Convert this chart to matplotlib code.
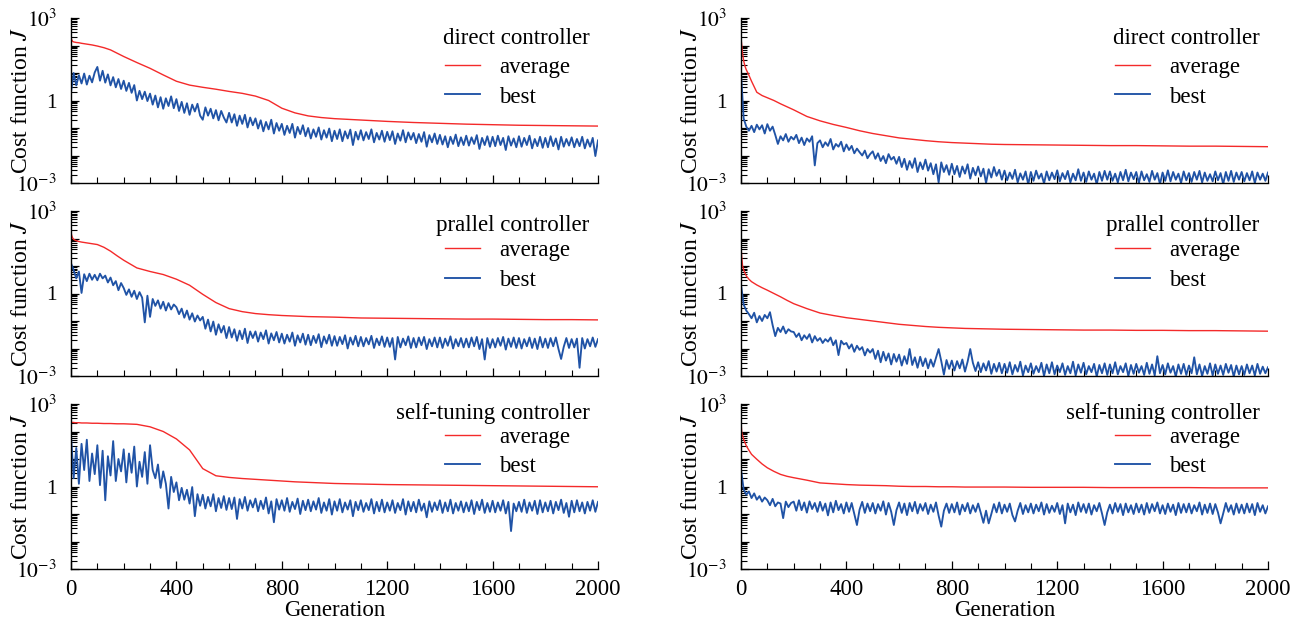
import numpy as np
import matplotlib
matplotlib.use("Agg")
import matplotlib.pyplot as plt
from matplotlib.ticker import FixedLocator, FuncFormatter, MultipleLocator, NullFormatter

plt.rcParams['font.family'] = ['Liberation Serif', 'DejaVu Serif']
plt.rcParams['mathtext.fontset'] = 'stix'

gen_avg = [0, 3, 6, 10, 15, 20, 30, 40, 60, 80, 100, 125, 150, 175, 200,
           250, 300, 350, 400, 450, 500, 550, 600, 650, 700, 750, 800, 850, 900, 950, 1000,
           1100, 1200, 1300, 1400, 1500, 1600, 1700, 1800, 1900, 2000]

# all values are log10(J); best curves are read every 10 generations
# --- direct controller ---
direct_avg_L = [2.28, 2.20, 2.15, 2.13, 2.12, 2.11, 2.10, 2.08, 2.05, 2.02, 1.98, 1.92, 1.84, 1.72, 1.60,
                1.38, 1.17, 0.93, 0.70, 0.56, 0.48, 0.41, 0.33, 0.26, 0.16, 0.00, -0.28, -0.45, -0.56, -0.62, -0.66,
                -0.71, -0.76, -0.80, -0.83, -0.86, -0.88, -0.90, -0.91, -0.92, -0.93]
direct_best_L = [
    0.30, 1.00, 0.55, 0.92, 0.62, 0.98, 0.58, 0.90, 0.66, 1.02,
    1.22, 0.72, 1.08, 0.65, 0.95, 0.55, 0.85, 0.48, 0.78, 0.42,
    0.72, 0.35, 0.64, 0.28, 0.56, 0.00, 0.35, 0.05, 0.32, -0.02,
    0.25, -0.15, 0.18, -0.25, 0.12, -0.30, 0.08, -0.20, 0.15, -0.28,
    0.05, -0.38, -0.05, -0.45, -0.10, -0.52, -0.15, -0.40, -0.12, -0.55,
    -0.70, -0.25, -0.55, -0.30, -0.65, -0.35, -0.72, -0.38, -0.62, -0.80,
    -0.45, -0.80, -0.50, -0.92, -0.55, -0.85, -0.52, -0.98, -0.62, -0.90,
    -0.65, -1.02, -0.72, -1.12, -0.78, -1.05, -0.70, -1.20, -0.82, -1.10,
    -0.85, -1.25, -0.92, -1.18, -0.85, -1.35, -0.96, -1.22, -0.90, -1.30,
    -1.00, -1.38, -1.05, -1.32, -0.98, -1.42, -1.08, -1.35, -1.02, -1.48,
    -1.10, -1.40, -1.05, -1.48, -1.12, -1.38, -1.06, -1.62, -1.14, -1.42,
    -1.08, -1.45, -1.15, -1.40, -1.05, -1.52, -1.18, -1.42, -1.10, -1.50,
    -1.14, -1.44, -1.12, -1.58, -1.20, -1.46, -1.08, -1.52, -1.16, -1.42,
    -1.18, -1.55, -1.22, -1.50, -1.15, -1.68, -1.26, -1.52, -1.20, -1.58,
    -1.25, -1.60, -1.30, -1.70, -1.32, -1.58, -1.24, -1.66, -1.34, -1.62,
    -1.28, -1.64, -1.34, -1.58, -1.26, -1.76, -1.36, -1.62, -1.30, -1.68,
    -1.32, -1.66, -1.28, -1.62, -1.36, -1.80, -1.30, -1.64, -1.38, -1.70,
    -1.30, -1.68, -1.36, -1.62, -1.28, -1.74, -1.40, -1.66, -1.32, -1.72,
    -1.36, -1.70, -1.30, -1.66, -1.38, -1.78, -1.32, -1.68, -1.40, -1.64,
    -1.34, -1.70, -1.40, -1.66, -1.32, -1.74, -1.42, -1.68, -1.36, -2.02,
    -1.45]
direct_avg_R = [2.26, 2.00, 1.70, 1.45, 1.25, 1.12, 0.92, 0.70, 0.30, 0.18, 0.10, 0.00, -0.12, -0.23, -0.34,
                -0.58, -0.74, -0.87, -0.98, -1.10, -1.20, -1.28, -1.36, -1.41, -1.46, -1.50, -1.53, -1.55, -1.57, -1.59, -1.60,
                -1.61, -1.62, -1.63, -1.64, -1.64, -1.65, -1.66, -1.66, -1.67, -1.68]
direct_best_R = [
    1.00, -0.65, -0.95, -1.10, -0.92, -1.15, -0.88, -1.05, -0.90, -1.20,
    -0.86, -1.10, -0.95, -1.25, -1.58, -1.30, -1.45, -1.22, -1.50, -1.32,
    -1.42, -1.25, -1.55, -1.35, -1.62, -1.38, -1.50, -1.30, -2.36, -1.55,
    -1.45, -1.70, -1.52, -1.65, -1.40, -1.78, -1.58, -1.68, -1.50, -1.85,
    -1.60, -1.80, -1.65, -1.92, -1.75, -1.88, -2.00, -1.82, -2.10, -1.95,
    -1.85, -2.12, -1.92, -2.20, -2.02, -2.28, -1.95, -2.15, -2.05, -2.30,
    -2.05, -2.42, -2.12, -2.52, -2.20, -2.45, -2.10, -2.60, -2.25, -2.50,
    -2.15, -2.55, -2.28, -2.68, -2.32, -2.98, -2.25, -2.60, -2.35, -2.70,
    -2.30, -2.68, -2.38, -2.78, -2.40, -2.66, -2.32, -2.84, -2.45, -2.72,
    -2.40, -2.76, -2.48, -3.00, -2.50, -2.80, -2.42, -2.74, -2.52, -2.88,
    -2.55, -2.90, -2.62, -2.85, -2.52, -2.98, -2.65, -2.88, -2.58, -3.05,
    -2.60, -2.92, -2.55, -2.84, -2.66, -3.02, -2.58, -2.90, -2.62, -2.86,
    -2.54, -2.94, -2.64, -2.86, -2.56, -2.98, -2.66, -2.90, -2.50, -2.92,
    -2.62, -2.96, -2.58, -2.88, -2.66, -3.05, -2.60, -2.92, -2.56, -2.88,
    -2.58, -2.92, -2.66, -2.98, -2.60, -2.90, -2.52, -2.94, -2.62, -2.86,
    -2.60, -3.00, -2.58, -2.90, -2.68, -2.96, -2.56, -2.88, -2.64, -3.04,
    -2.62, -2.92, -2.54, -2.94, -2.60, -2.88, -2.66, -3.00, -2.58, -2.90,
    -2.64, -2.96, -2.60, -2.88, -2.56, -2.98, -2.62, -2.92, -2.68, -2.94,
    -2.58, -2.90, -2.64, -3.04, -2.60, -2.92, -2.56, -2.96, -2.62, -2.88,
    -2.60, -2.94, -2.64, -2.90, -2.58, -3.00, -2.62, -2.88, -2.66, -2.92,
    -2.62]

# --- parallel controller ---
parallel_avg_L = [2.21, 2.10, 2.02, 1.97, 1.94, 1.92, 1.89, 1.87, 1.84, 1.81, 1.78, 1.68, 1.54, 1.37, 1.21,
                  0.93, 0.80, 0.69, 0.52, 0.30, -0.03, -0.33, -0.55, -0.66, -0.73, -0.77, -0.80, -0.82, -0.84, -0.85, -0.86,
                  -0.89, -0.90, -0.91, -0.92, -0.93, -0.93, -0.94, -0.95, -0.95, -0.96]
parallel_best_L = [
    1.10, 0.85, 0.55, 0.80, 0.02, 0.70, 0.45, 0.72, 0.50, 0.68,
    0.48, 0.72, 0.55, 0.65, 0.40, 0.58, 0.30, 0.45, 0.12, 0.38,
    0.20, -0.05, 0.15, -0.12, 0.10, -0.20, 0.05, -0.15, -1.05, -0.08,
    -0.85, -0.20, -0.45, -0.25, -0.55, -0.30, -0.62, -0.35, -0.58, -0.40,
    -0.50, -0.75, -0.55, -0.88, -0.62, -0.95, -0.72, -1.02, -0.80, -0.98,
    -0.85, -1.28, -0.95, -1.38, -1.02, -1.50, -1.12, -1.42, -1.18, -1.62,
    -1.22, -1.60, -1.30, -1.72, -1.35, -1.66, -1.28, -1.80, -1.38, -1.62,
    -1.38, -1.75, -1.42, -1.66, -1.34, -1.82, -1.45, -1.70, -1.40, -1.78,
    -1.46, -1.82, -1.50, -1.75, -1.42, -1.90, -1.52, -1.78, -1.46, -1.86,
    -1.50, -1.88, -1.54, -1.80, -1.48, -1.95, -1.56, -1.82, -1.50, -1.90,
    -1.55, -1.90, -1.58, -1.84, -1.52, -2.00, -1.60, -1.86, -1.54, -1.92,
    -1.58, -1.92, -1.62, -1.85, -1.54, -1.98, -1.64, -1.88, -1.56, -1.94,
    -1.60, -1.94, -1.62, -2.40, -1.58, -1.96, -1.64, -1.88, -1.56, -1.98,
    -1.62, -1.96, -1.60, -1.88, -1.58, -2.02, -1.66, -1.92, -1.60, -1.96,
    -1.60, -1.98, -1.64, -1.90, -1.56, -2.00, -1.66, -1.92, -1.62, -1.96,
    -1.64, -1.96, -1.60, -1.92, -1.58, -2.02, -1.66, -2.40, -1.62, -1.98,
    -1.66, -1.96, -1.62, -1.90, -1.58, -2.04, -1.64, -1.94, -1.60, -1.98,
    -1.62, -2.00, -1.66, -1.92, -1.60, -1.98, -1.64, -2.02, -1.58, -1.96,
    -1.64, -1.98, -1.62, -1.92, -1.60, -2.02, -2.38, -1.94, -1.62, -1.98,
    -1.66, -1.96, -1.64, -2.70, -1.62, -2.00, -1.66, -1.92, -1.60, -1.94,
    -1.66]
parallel_avg_R = [1.71, 1.29, 1.00, 0.86, 0.75, 0.64, 0.52, 0.43, 0.31, 0.21, 0.12, 0.00, -0.12, -0.25, -0.37,
                  -0.55, -0.71, -0.80, -0.88, -0.94, -1.00, -1.06, -1.12, -1.16, -1.20, -1.23, -1.25, -1.27, -1.28, -1.29, -1.30,
                  -1.31, -1.32, -1.33, -1.33, -1.34, -1.34, -1.35, -1.35, -1.36, -1.37]
parallel_best_R = [
    0.32, -0.40, -0.62, -0.75, -0.90, -0.70, -1.05, -0.82, -1.00, -0.78,
    -0.90, -0.68, -1.15, -1.55, -1.25, -1.40, -1.20, -1.45, -1.30, -1.38,
    -1.40, -1.58, -1.45, -1.70, -1.52, -1.65, -1.48, -1.78, -1.55, -1.72,
    -1.62, -1.80, -1.66, -1.75, -1.60, -1.88, -1.70, -2.24, -1.72, -1.85,
    -1.80, -2.00, -1.85, -2.12, -1.90, -2.05, -1.95, -2.25, -2.02, -2.15,
    -2.02, -2.38, -2.08, -2.50, -2.12, -2.44, -2.18, -2.58, -2.20, -2.48,
    -2.22, -2.62, -2.28, -2.56, -2.02, -2.60, -2.32, -2.70, -2.30, -2.64,
    -2.36, -2.72, -2.40, -2.66, -2.34, -2.02, -2.46, -2.95, -2.42, -2.74,
    -2.44, -2.80, -2.46, -2.72, -2.40, -2.84, -2.48, -2.02, -2.52, -2.82,
    -2.50, -2.86, -2.54, -2.80, -2.46, -2.92, -2.56, -2.84, -2.52, -2.90,
    -2.56, -2.88, -2.50, -2.94, -2.60, -2.84, -2.48, -2.98, -2.62, -2.86,
    -2.54, -2.92, -2.64, -2.86, -2.52, -3.00, -2.58, -2.90, -2.50, -2.94,
    -2.62, -2.86, -2.54, -2.96, -2.64, -2.90, -2.48, -2.98, -2.58, -2.88,
    -2.52, -2.94, -2.64, -2.86, -2.56, -3.02, -2.60, -2.90, -2.54, -2.96,
    -2.58, -2.90, -2.50, -2.94, -2.64, -2.86, -2.54, -3.00, -2.60, -2.92,
    -2.56, -2.88, -2.64, -2.96, -2.52, -2.92, -2.58, -2.98, -2.28, -2.90,
    -2.60, -2.94, -2.54, -2.88, -2.64, -3.02, -2.58, -2.92, -2.56, -2.96,
    -2.62, -2.90, -2.32, -2.94, -2.58, -3.00, -2.64, -2.92, -2.54, -2.98,
    -2.58, -2.92, -2.62, -2.96, -2.56, -2.88, -2.60, -3.02, -2.62, -2.94,
    -2.64, -2.96, -2.58, -2.90, -2.62, -2.98, -2.56, -2.92, -2.66, -2.90,
    -2.68]

# --- self-tuning controller ---
selftune_avg_L = [2.34, 2.33, 2.33, 2.33, 2.32, 2.32, 2.32, 2.31, 2.31, 2.30, 2.30, 2.29, 2.29, 2.28, 2.28,
                  2.26, 2.17, 2.00, 1.73, 1.33, 0.65, 0.39, 0.33, 0.29, 0.26, 0.23, 0.20, 0.17, 0.15, 0.13, 0.11,
                  0.09, 0.07, 0.06, 0.05, 0.04, 0.03, 0.02, 0.01, 0.00, -0.01]
selftune_best_L = [
    1.85, 0.30, 1.40, 0.10, 1.55, 0.60, 1.70, 0.20, 1.20, 0.45,
    1.50, 0.05, 1.30, -0.50, 1.10, 0.40, 1.65, 0.20, 1.00, 0.55,
    1.35, 0.15, 1.20, 0.50, 1.45, 0.00, 0.90, 0.35, 1.25, 0.10,
    1.50, 0.60, 0.30, 0.80, -0.05, 0.55, 0.10, -0.80, 0.35, -0.20,
    0.15, -0.50, -0.05, -0.48, -0.12, -0.62, -0.02, -1.08, -0.28, -0.70,
    -0.30, -0.80, -0.38, -0.72, -0.28, -0.90, -0.42, -0.78, -0.35, -0.85,
    -0.42, -0.82, -0.40, -1.18, -0.46, -0.80, -0.38, -0.88, -0.50, -0.76,
    -0.44, -0.90, -0.52, -0.82, -0.40, -0.98, -0.54, -1.30, -0.46, -0.84,
    -0.50, -0.88, -0.42, -0.92, -0.56, -0.82, -0.44, -1.00, -0.52, -0.86,
    -0.48, -0.90, -0.54, -0.84, -0.42, -0.96, -0.58, -0.88, -0.46, -1.02,
    -0.54, -0.88, -0.46, -0.94, -0.58, -0.84, -0.50, -1.08, -0.56, -0.86,
    -0.50, -0.92, -0.60, -0.86, -0.46, -0.98, -0.56, -0.90, -0.48, -0.94,
    -0.58, -0.88, -0.50, -0.96, -0.60, -0.86, -0.46, -1.02, -0.54, -0.90,
    -0.56, -0.94, -0.48, -0.88, -0.62, -1.12, -0.54, -0.92, -0.58, -0.86,
    -0.50, -0.96, -0.58, -0.90, -0.48, -0.98, -0.60, -0.88, -0.54, -0.94,
    -0.58, -0.90, -0.50, -1.00, -0.56, -0.86, -0.48, -0.96, -0.60, -0.92,
    -0.52, -0.94, -0.58, -0.88, -0.50, -0.98, -0.56, -1.62, -0.62, -0.90,
    -0.56, -0.92, -0.48, -0.96, -0.58, -0.88, -0.52, -1.00, -0.50, -0.94,
    -0.58, -0.90, -0.52, -0.98, -0.56, -0.86, -0.48, -0.96, -0.60, -1.10,
    -0.52, -0.94, -0.50, -0.90, -0.58, -0.98, -0.56, -0.88, -0.50, -0.92,
    -0.56]
selftune_avg_R = [2.33, 1.96, 1.85, 1.72, 1.60, 1.48, 1.32, 1.17, 0.99, 0.82, 0.68, 0.55, 0.44, 0.37, 0.32,
                  0.23, 0.13, 0.10, 0.07, 0.05, 0.04, 0.03, 0.01, 0.00, 0.00, -0.01, -0.01, -0.02, -0.02, -0.02, -0.02,
                  -0.03, -0.03, -0.03, -0.04, -0.04, -0.04, -0.04, -0.05, -0.05, -0.05]
selftune_best_R = [
    0.62, -0.10, -0.30, -0.18, -0.42, -0.25, -0.48, -0.35, -0.55, -0.40,
    -0.50, -0.68, -0.45, -0.72, -0.58, -0.62, -1.15, -0.55, -0.75, -0.60,
    -0.55, -0.88, -0.50, -0.86, -0.58, -0.95, -0.54, -0.82, -0.60, -0.92,
    -0.56, -0.88, -0.62, -1.05, -0.58, -0.94, -0.52, -0.86, -0.64, -0.98,
    -0.58, -0.92, -0.60, -1.00, -1.40, -0.84, -0.56, -0.96, -0.62, -0.90,
    -0.60, -0.98, -0.64, -0.88, -0.54, -1.02, -0.60, -0.92, -1.40, -0.86,
    -0.58, -0.96, -0.62, -1.04, -0.60, -0.90, -0.56, -0.98, -0.64, -0.88,
    -0.60, -1.00, -0.66, -0.92, -0.58, -1.06, -1.46, -0.88, -0.62, -0.96,
    -0.64, -0.94, -0.58, -1.02, -0.66, -0.90, -0.60, -0.98, -0.68, -0.92,
    -0.62, -0.96, -1.32, -0.88, -1.34, -1.00, -0.64, -0.94, -0.58, -0.98,
    -0.66, -0.92, -0.62, -1.04, -1.27, -0.88, -0.60, -1.00, -0.68, -0.94,
    -0.62, -0.98, -0.66, -0.90, -0.58, -1.02, -0.64, -0.96, -0.70, -0.92,
    -0.60, -1.00, -0.68, -1.34, -0.62, -0.94, -0.66, -1.04, -0.58, -0.92,
    -0.64, -0.96, -0.62, -1.02, -0.68, -0.90, -0.60, -0.98, -1.40, -0.94,
    -0.66, -0.98, -0.60, -0.92, -0.64, -1.04, -0.62, -0.94, -0.68, -1.00,
    -0.62, -0.94, -0.66, -1.02, -0.60, -0.96, -0.64, -0.90, -0.58, -0.98,
    -0.68, -1.00, -0.62, -0.92, -0.66, -1.04, -0.60, -0.96, -0.64, -0.94,
    -0.62, -0.98, -0.68, -0.90, -0.58, -1.02, -0.66, -0.96, -0.62, -1.00,
    -0.64, -0.94, -1.34, -0.98, -0.60, -0.92, -0.68, -1.02, -0.62, -0.96,
    -0.66, -0.98, -0.62, -0.94, -0.64, -1.04, -0.60, -0.92, -0.68, -0.98,
    -0.72]

titles = ['direct controller', 'prallel controller', 'self-tuning controller']
series = [[(direct_avg_L, direct_best_L), (direct_avg_R, direct_best_R)],
          [(parallel_avg_L, parallel_best_L), (parallel_avg_R, parallel_best_R)],
          [(selftune_avg_L, selftune_best_L), (selftune_avg_R, selftune_best_R)]]

red = '#f42a2a'
blue = '#2053a6'

W, H = 1303, 628
col_x = [71 / W, 741 / W]
ax_w = 527 / W
row_bottom = [1 - 183 / H, 1 - 376 / H, 1 - 569 / H]
ax_h = 165 / H

# legend placement per row (axes fraction)
title_y = [0.842, 0.879, 0.909]
leg_top = [0.764, 0.824, 0.861]

decades = [1e-3, 1e-2, 1e-1, 1, 10, 100, 1000]
minor_y = [k * d for d in decades[:-1] for k in range(2, 10)]


def ylab(v, pos):
    if np.isclose(v, 1e3):
        return r'$10^{3}$'
    if np.isclose(v, 1.0):
        return '1'
    if np.isclose(v, 1e-3):
        return r'$10^{-3}$'
    return ''


fig = plt.figure(figsize=(W / 100, H / 100), dpi=100)

for r in range(3):
    for c in range(2):
        ax = fig.add_axes([col_x[c], row_bottom[r], ax_w, ax_h])
        avg, best = series[r][c]
        ax.plot(gen_avg, 10.0 ** np.array(avg), color=red, lw=1.0, label='average')
        gen_best = np.linspace(0, 2000, len(best))
        ax.plot(gen_best, 10.0 ** np.array(best), color=blue, lw=1.35, label='best')

        ax.set_yscale('log')
        ax.set_ylim(1e-3, 1e3)
        ax.set_xlim(0, 2000)
        ax.spines['top'].set_visible(False)
        ax.spines['right'].set_visible(False)
        for s in ('left', 'bottom'):
            ax.spines[s].set_linewidth(1.0)

        ax.yaxis.set_major_locator(FixedLocator(decades))
        ax.yaxis.set_major_formatter(FuncFormatter(ylab))
        ax.yaxis.set_minor_locator(FixedLocator(minor_y))
        ax.yaxis.set_minor_formatter(NullFormatter())
        ax.xaxis.set_major_locator(MultipleLocator(400))
        ax.xaxis.set_minor_locator(MultipleLocator(100))

        ax.tick_params(which='both', direction='in', top=False, right=False)
        ax.tick_params(which='major', length=6, width=0.9)
        ax.tick_params(which='minor', length=4, width=0.8)
        ax.tick_params(axis='y', which='major', pad=10, labelsize=15.5)
        ax.tick_params(axis='x', which='major', pad=7, labelsize=16.5, labelbottom=(r == 2))

        ax.set_ylabel('Cost function $J$', fontsize=17)
        ax.yaxis.set_label_coords(-0.074, 0.5)
        if r == 2:
            ax.set_xlabel('Generation', fontsize=16.5, labelpad=0)

        ax.text(0.984, title_y[r], titles[r], transform=ax.transAxes,
                ha='right', va='baseline', fontsize=16.5)
        ax.legend(loc='upper left', bbox_to_anchor=(0.71, leg_top[r]), frameon=False,
                  borderpad=0, borderaxespad=0, handlelength=1.5, handletextpad=0.85,
                  labelspacing=0.37, fontsize=16.5)

fig.savefig('out.png', dpi=100)
